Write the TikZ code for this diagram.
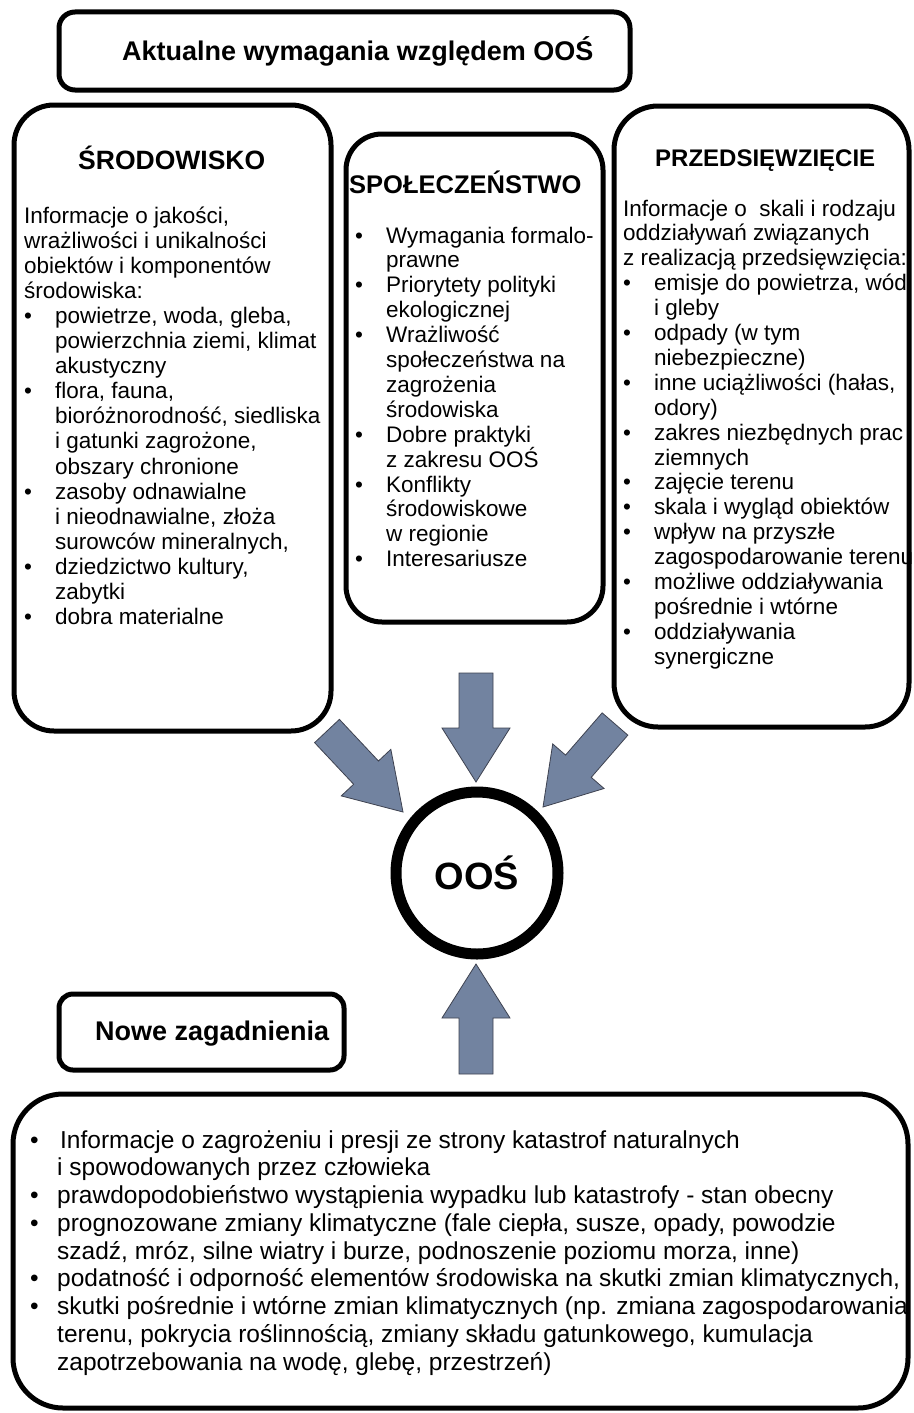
\documentclass[tikz,border=0pt]{standalone}
\usepackage{fontspec}
\setmainfont{Liberation Sans}
\usetikzlibrary{calc}
\definecolor{arrowfill}{RGB}{114,131,160}
\definecolor{arrowline}{RGB}{62,66,80}
\newlength\bw
\newcommand\bul{\leavevmode\hbox to \bw{\textbullet\hfil}}
\newcommand\ind{\leavevmode\hbox to \bw{}}
\newcommand\txtblock[4]{\vtop{\hsize=#1\parindent=0pt\parskip=0pt\setlength\bw{#2}#3#4}}
\newcommand\blockarrow[2]{%
  \coordinate (#2-h) at ($(#2)!54pt!(#1)$);
  \draw[barrow] ($(#1)!17pt!90:(#2)$) -- ($(#2-h)!17pt!-90:(#1)$) -- ($(#2-h)!34pt!-90:(#1)$) -- (#2)
    -- ($(#2-h)!34pt!90:(#1)$) -- ($(#2-h)!17pt!90:(#1)$) -- ($(#1)!17pt!-90:(#2)$) -- cycle;}
\tikzset{
  box/.style={draw, line width=5pt, rounded corners=#1, inner sep=0pt},
  box/.default=40pt,
  barrow/.style={fill=arrowfill, draw=arrowline, line width=0.8pt, line join=miter},
  txt/.style={anchor=base west, inner sep=0pt},
  head/.style={anchor=base west, inner sep=0pt, font=\bfseries\fontsize{#1}{#1}\selectfont},
}
\begin{document}
\begin{tikzpicture}[x=1pt, y=-1pt]
\fill[white] (0,0) rectangle (913,1413);
\useasboundingbox (0,0) rectangle (913,1413);

% boxes
\node[box=16pt, minimum width=571pt, minimum height=78pt] (top) at (344.5,51) {};
\node[box=40pt, minimum width=317pt, minimum height=626pt] (srod) at (172.5,418) {};
\node[box=36pt, minimum width=257pt, minimum height=488pt] (spol) at (474.5,378) {};
\node[box=44pt, minimum width=295pt, minimum height=621pt] (przed) at (761.5,416.5) {};
\node[box=14pt, minimum width=285pt, minimum height=76pt] (nowe) at (201.5,1032) {};
\node[box=50pt, minimum width=895pt, minimum height=314pt] (bottom) at (460.5,1251) {};
\node[circle, draw, line width=11pt, minimum size=162pt, inner sep=0pt,
      font=\bfseries\fontsize{38}{40}\selectfont] (oos) at (477,873) {OOŚ};

% headings
\node[head=27] (ttop) at (122,60) {Aktualne wymagania względem OOŚ};
\node[head=26.5] (tsrod) at (78,169) {ŚRODOWISKO};
\node[head=25.5] (tspol) at (349,193) {SPOŁECZEŃSTWO};
\node[head=24] (tprzed) at (655,166) {PRZEDSIĘWZIĘCIE};
\node[head=27] (tnowe) at (95,1040) {Nowe zagadnienia};

% body texts
\node[txt] (bsrod) at (24,223) {\txtblock{400pt}{31pt}{\fontsize{22.5}{25.1}\selectfont}{%
Informacje o jakości,\par
wrażliwości i unikalności\par
obiektów i komponentów\par
środowiska:\par
\bul powietrze, woda, gleba,\par
\ind powierzchnia ziemi, klimat\par
\ind akustyczny\par
\bul flora, fauna,\par
\ind bioróżnorodność, siedliska\par
\ind i gatunki zagrożone,\par
\ind obszary chronione\par
\bul zasoby odnawialne\par
\ind i nieodnawialne, złoża\par
\ind surowców mineralnych,\par
\bul dziedzictwo kultury,\par
\ind zabytki\par
\bul dobra materialne\par}};

\node[txt] (bspol) at (355,243) {\txtblock{400pt}{31pt}{\fontsize{22.5}{24.9}\selectfont}{%
\bul Wymagania formalo-\par
\ind prawne\par
\bul Priorytety polityki\par
\ind ekologicznej\par
\bul Wrażliwość\par
\ind społeczeństwa na\par
\ind zagrożenia\par
\ind środowiska\par
\bul Dobre praktyki\par
\ind z zakresu OOŚ\par
\bul Konflikty\par
\ind środowiskowe\par
\ind w regionie\par
\bul Interesariusze\par}};

\node[txt] (bprzed) at (623,216) {\txtblock{400pt}{31pt}{\fontsize{22.5}{24.9}\selectfont}{%
Informacje o\ \ skali i rodzaju\par
oddziaływań związanych\par
z realizacją przedsięwzięcia:\par
\bul emisje do powietrza, wód\par
\ind i gleby\par
\bul odpady (w tym\par
\ind niebezpieczne)\par
\bul inne uciążliwości (hałas,\par
\ind odory)\par
\bul zakres niezbędnych prac\par
\ind ziemnych\par
\bul zajęcie terenu\par
\bul skala i wygląd obiektów\par
\bul wpływ na przyszłe\par
\ind zagospodarowanie terenu\par
\bul możliwe oddziaływania\par
\ind pośrednie i wtórne\par
\bul oddziaływania\par
\ind synergiczne\par}};

\node[txt] (bbottom) at (30,1148) {\txtblock{1000pt}{27pt}{\fontsize{24.5}{27.75}\selectfont}{%
\bul\hspace{3pt}Informacje o zagrożeniu i presji ze strony katastrof naturalnych\par
\ind i spowodowanych przez człowieka\par
\bul prawdopodobieństwo wystąpienia wypadku lub katastrofy - stan obecny\par
\bul prognozowane zmiany klimatyczne (fale ciepła, susze, opady, powodzie\par
\ind szadź, mróz, silne wiatry i burze, podnoszenie poziomu morza, inne)\par
\bul podatność i odporność elementów środowiska na skutki zmian klimatycznych,\par
\bul skutki pośrednie i wtórne zmian klimatycznych (np. zmiana zagospodarowania\par
\ind terenu, pokrycia roślinnością, zmiany składu gatunkowego, kumulacja\par
\ind zapotrzebowania na wodę, glebę, przestrzeń)\par}};

% block arrows
\coordinate (aL1) at (327,731);  \coordinate (aL2) at (403,812);
\coordinate (aM1) at (476,673);  \coordinate (aM2) at (476,782);
\coordinate (aR1) at (615,724);  \coordinate (aR2) at (543,807);
\coordinate (aB1) at (476,1074); \coordinate (aB2) at (476,964);
\blockarrow{aL1}{aL2}
\blockarrow{aM1}{aM2}
\blockarrow{aR1}{aR2}
\blockarrow{aB1}{aB2}
\end{tikzpicture}
\end{document}
